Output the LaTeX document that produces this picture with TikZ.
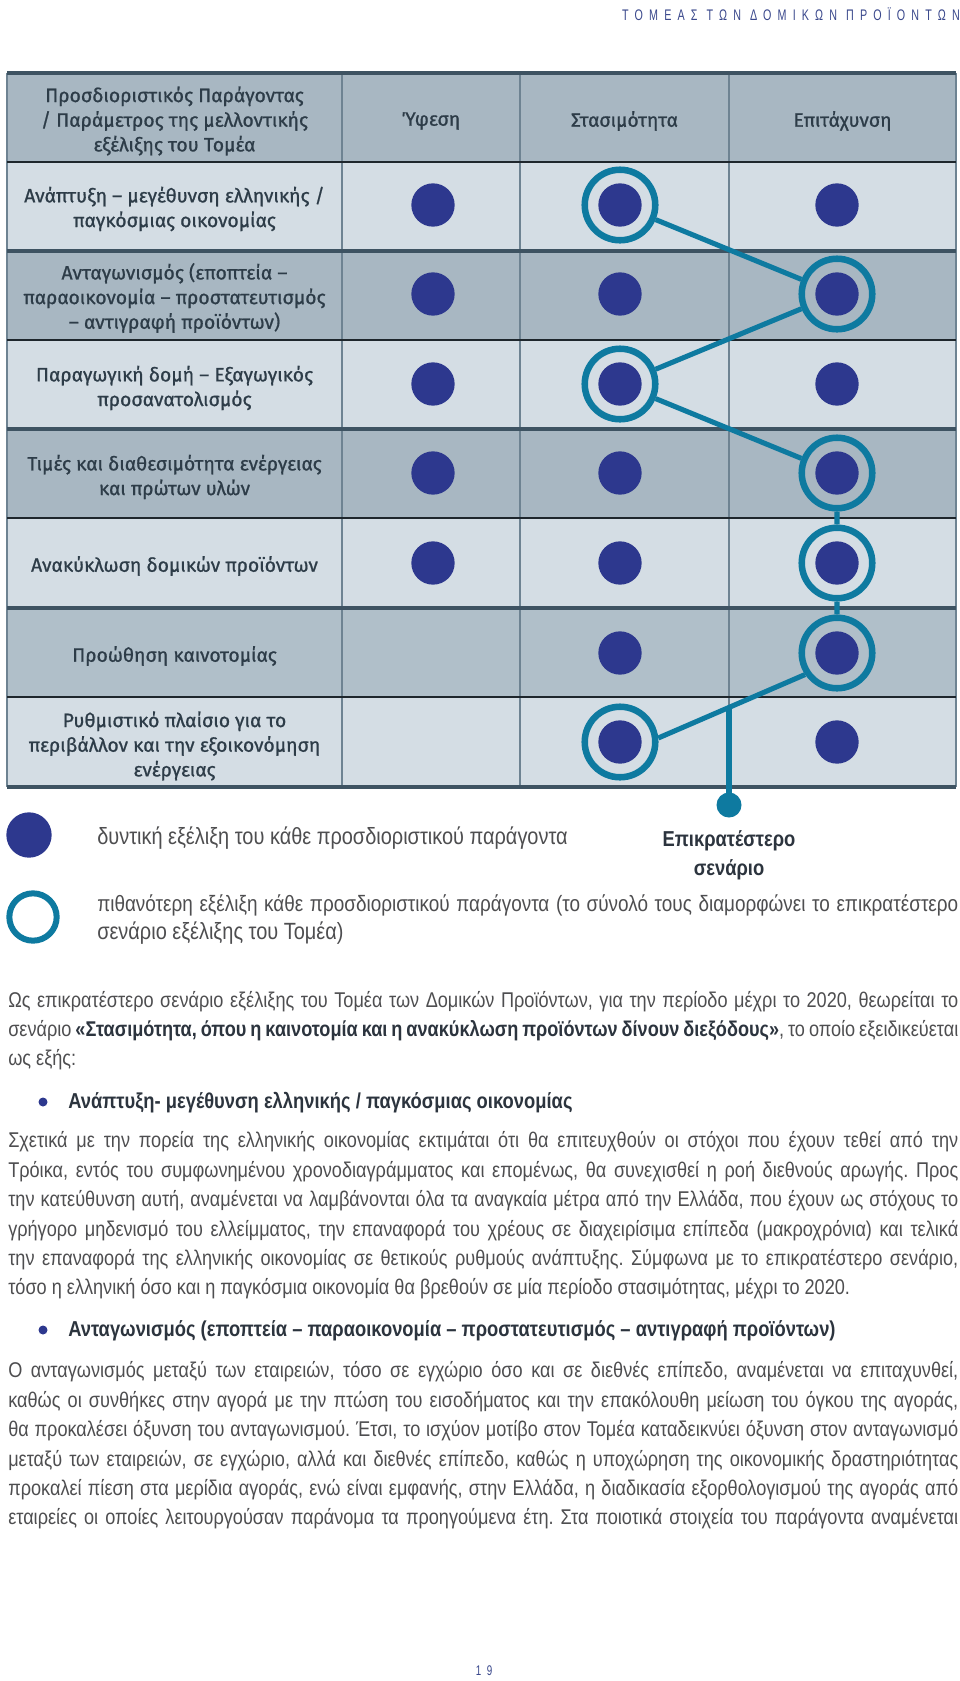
\documentclass[tikz,border=0pt]{standalone}
\usepackage{fontspec}
\usepackage{tikz}
\usetikzlibrary{calc}
\setmainfont{Liberation Sans}
\newfontfamily\tabfont[FakeBold=0.9]{Fira Sans}
\newfontfamily\bodyfont[FakeStretch=0.85]{Liberation Sans}
\newfontfamily\headfont[FakeStretch=0.7,LetterSpace=40]{Liberation Sans}
\definecolor{dotcol}{RGB}{45,56,142}
\definecolor{ringcol}{RGB}{14,122,160}
\definecolor{rowlight}{RGB}{212,221,228}
\definecolor{rowdark}{RGB}{168,183,194}
\definecolor{rowmid}{RGB}{176,191,201}
\definecolor{rulecol}{RGB}{30,38,44}
\definecolor{framecol}{RGB}{62,83,98}
\definecolor{gridcol}{RGB}{110,131,146}
\definecolor{tabtext}{RGB}{45,60,72}
\definecolor{bodytext}{RGB}{78,78,80}
\definecolor{boldtext}{RGB}{44,52,62}
\definecolor{headcol}{RGB}{58,72,140}
\frenchspacing
% one justified line of the running text
\newcommand{\jl}[2][712.5pt]{\hbox to #1{#2}}

\begin{document}
\begin{tikzpicture}[x=0.75pt,y=-0.75pt,
  pdot/.style={circle,fill=dotcol,inner sep=0pt,minimum size=32.5pt},
  pring/.style={circle,draw=ringcol,line width=4.9pt,inner sep=0pt,minimum size=52.9pt},
  plink/.style={draw=ringcol,line width=3.8pt},
  celltxt/.style={font=\tabfont\fontsize{14.5}{18.5}\selectfont,text=tabtext,align=center,inner sep=0pt},
  bodyln/.style={font=\bodyfont\fontsize{16}{22}\selectfont,text=bodytext,anchor=base west,inner sep=0pt},
  legln/.style={bodyln,font=\bodyfont\fontsize{17.6}{22}\selectfont},
  boldln/.style={bodyln,font=\bodyfont\bfseries\fontsize{16.2}{22}\selectfont,text=boldtext}]
  \fill[white] (0,0) rectangle (960,1681);
  \useasboundingbox (0,0) rectangle (960,1681);

  % running head
  \node[font=\headfont\fontsize{11.5}{13}\selectfont,text=headcol,anchor=base east,inner sep=0pt] (head) at (960,20) {ΤΟΜΕΑΣ ΤΩΝ ΔΟΜΙΚΩΝ ΠΡΟΪΟΝΤΩΝ};

  % Table: row bands
  \fill[rowdark] (7,73) rectangle (956,162);
  \fill[rowlight] (7,162) rectangle (956,251);
  \fill[rowdark] (7,251) rectangle (956,340);
  \fill[rowlight] (7,340) rectangle (956,429);
  \fill[rowdark] (7,429) rectangle (956,518);
  \fill[rowlight] (7,518) rectangle (956,608);
  \fill[rowmid] (7,608) rectangle (956,697);
  \fill[rowlight] (7,697) rectangle (956,787);
  \draw[gridcol,line width=1.5pt] (7,73) -- (7,787) (342,73) -- (342,787) (520,73) -- (520,787) (729,73) -- (729,787) (956,73) -- (956,787);
  \draw[rulecol,line width=2.2pt] (7,162) -- (956,162) (7,340) -- (956,340) (7,518) -- (956,518) (7,697) -- (956,697);
  \draw[framecol,line width=3.4pt] (7,73) -- (956,73) (7,251) -- (956,251) (7,429) -- (956,429) (7,608) -- (956,608) (7,787) -- (956,787);

  % Table: header and factor names
  \node[celltxt] (h0) at (174.5,121) {Προσδιοριστικός Παράγοντας\\/ Παράμετρος της μελλοντικής\\εξέλιξης του Τομέα};
  \node[celltxt] (h1) at (431,121) {Ύφεση};
  \node[celltxt] (h2) at (624.5,121) {Στασιμότητα};
  \node[celltxt] (h3) at (842.5,121) {Επιτάχυνση};
  \node[celltxt] (f1) at (174.5,209) {Ανάπτυξη – μεγέθυνση ελληνικής /\\παγκόσμιας οικονομίας};
  \node[celltxt] (f2) at (174.5,298) {Ανταγωνισμός (εποπτεία –\\παραοικονομία – προστατευτισμός\\– αντιγραφή προϊόντων)};
  \node[celltxt] (f3) at (174.5,388) {Παραγωγική δομή – Εξαγωγικός\\προσανατολισμός};
  \node[celltxt] (f4) at (174.5,477) {Τιμές και διαθεσιμότητα ενέργειας\\και πρώτων υλών};
  \node[celltxt] (f5) at (174.5,566) {Ανακύκλωση δομικών προϊόντων};
  \node[celltxt] (f6) at (174.5,656) {Προώθηση καινοτομίας};
  \node[celltxt] (f7) at (174.5,746) {Ρυθμιστικό πλαίσιο για το\\περιβάλλον και την εξοικονόμηση\\ενέργειας};

  % possible evolutions
  \node[pdot] (yf1) at (433,205) {};
  \node[pdot] (yf2) at (433,294) {};
  \node[pdot] (yf3) at (433,384) {};
  \node[pdot] (yf4) at (433,473) {};
  \node[pdot] (yf5) at (433,563) {};
  \node[pdot] (st1) at (620,205) {};
  \node[pdot] (st2) at (620,294) {};
  \node[pdot] (st3) at (620,384) {};
  \node[pdot] (st4) at (620,473) {};
  \node[pdot] (st5) at (620,563) {};
  \node[pdot] (st6) at (620,653) {};
  \node[pdot] (st7) at (620,742) {};
  \node[pdot] (ep1) at (837,205) {};
  \node[pdot] (ep2) at (837,294) {};
  \node[pdot] (ep3) at (837,384) {};
  \node[pdot] (ep4) at (837,473) {};
  \node[pdot] (ep5) at (837,563) {};
  \node[pdot] (ep6) at (837,653) {};
  \node[pdot] (ep7) at (837,742) {};

  % most likely evolution and the prevailing scenario
  \node[pring] (r1) at (st1) {};
  \node[pring] (r2) at (ep2) {};
  \node[pring] (r3) at (st3) {};
  \node[pring] (r4) at (ep4) {};
  \node[pring] (r5) at (ep5) {};
  \node[pring] (r6) at (ep6) {};
  \node[pring] (r7) at (st7) {};
  \draw[plink] (r1) -- (r2) -- (r3) -- (r4) -- (r5) -- (r6);
  \draw[plink] (r6.214) -- (r7.6);
  \coordinate (drop) at ($(r6.214)!0.516!(r7.6)$);
  \node[circle,fill=ringcol,inner sep=0pt,minimum size=18.75pt] (term) at (729,805) {};
  \draw[plink] (term.center) -- (term |- drop);
  \node[boldln,anchor=base] (sc1) at (729,846) {Επικρατέστερο};
  \node[boldln,anchor=base] (sc2) at (729,875) {σενάριο};

  % legend
  \node[pdot,minimum size=34pt] (legdot) at (29,835) {};
  \node[pring,minimum size=35.5pt,line width=4.5pt] (legring) at (33,917) {};
  \node[legln] (leg1) at (97,844) {δυντική εξέλιξη του κάθε προσδιοριστικού παράγοντα};
  \node[legln,font=\bodyfont\fontsize{16.7}{22}\selectfont] (leg2) at (97,911) {\jl[645.75pt]{πιθανότερη εξέλιξη κάθε προσδιοριστικού παράγοντα (το σύνολό τους διαμορφώνει το επικρατέστερο}};
  \node[legln] (leg3) at (97,939) {σενάριο εξέλιξης του Τομέα)};

  % text below the table
  \node[bodyln] (p1a) at (8,1007) {\jl{Ως επικρατέστερο σενάριο εξέλιξης του Τομέα των Δομικών Προϊόντων, για την περίοδο μέχρι το 2020, θεωρείται το}};
  \node[bodyln] (p1b) at (8,1036) {\jl{σενάριο {\bfseries\color{boldtext}«Στασιμότητα, όπου η καινοτομία και η ανακύκλωση προϊόντων δίνουν διεξόδους»}, το οποίο εξειδικεύεται}};
  \node[bodyln] (p1c) at (8,1065) {ως εξής:};
  \node[circle,fill=dotcol,inner sep=0pt,minimum size=6.75pt] (b1) at (43,1102) {};
  \node[boldln] (t1) at (68,1108) {Ανάπτυξη- μεγέθυνση ελληνικής / παγκόσμιας οικονομίας};
  \node[bodyln] (p2a) at (8,1147) {\jl{Σχετικά με την πορεία της ελληνικής οικονομίας εκτιμάται ότι θα επιτευχθούν οι στόχοι που έχουν τεθεί από την}};
  \node[bodyln] (p2b) at (8,1177) {\jl{Τρόικα, εντός του συμφωνημένου χρονοδιαγράμματος και επομένως, θα συνεχισθεί η ροή διεθνούς αρωγής. Προς}};
  \node[bodyln] (p2c) at (8,1206) {\jl{την κατεύθυνση αυτή, αναμένεται να λαμβάνονται όλα τα αναγκαία μέτρα από την Ελλάδα, που έχουν ως στόχους το}};
  \node[bodyln] (p2d) at (8,1236) {\jl{γρήγορο μηδενισμό του ελλείμματος, την επαναφορά του χρέους σε διαχειρίσιμα επίπεδα (μακροχρόνια) και τελικά}};
  \node[bodyln] (p2e) at (8,1265) {\jl{την επαναφορά της ελληνικής οικονομίας σε θετικούς ρυθμούς ανάπτυξης. Σύμφωνα με το επικρατέστερο σενάριο,}};
  \node[bodyln] (p2f) at (8,1294) {τόσο η ελληνική όσο και η παγκόσμια οικονομία θα βρεθούν σε μία περίοδο στασιμότητας, μέχρι το 2020.};
  \node[circle,fill=dotcol,inner sep=0pt,minimum size=6.75pt] (b2) at (43,1330) {};
  \node[boldln] (t2) at (68,1336) {Ανταγωνισμός (εποπτεία – παραοικονομία – προστατευτισμός – αντιγραφή προϊόντων)};
  \node[bodyln] (p3a) at (8,1377) {\jl{Ο ανταγωνισμός μεταξύ των εταιρειών, τόσο σε εγχώριο όσο και σε διεθνές επίπεδο, αναμένεται να επιταχυνθεί,}};
  \node[bodyln] (p3b) at (8,1407) {\jl{καθώς οι συνθήκες στην αγορά με την πτώση του εισοδήματος και την επακόλουθη μείωση του όγκου της αγοράς,}};
  \node[bodyln] (p3c) at (8,1436) {\jl{θα προκαλέσει όξυνση του ανταγωνισμού. Έτσι, το ισχύον μοτίβο στον Τομέα καταδεικνύει όξυνση στον ανταγωνισμό}};
  \node[bodyln] (p3d) at (8,1466) {\jl{μεταξύ των εταιρειών, σε εγχώριο, αλλά και διεθνές επίπεδο, καθώς η υποχώρηση της οικονομικής δραστηριότητας}};
  \node[bodyln] (p3e) at (8,1495) {\jl{προκαλεί πίεση στα μερίδια αγοράς, ενώ είναι εμφανής, στην Ελλάδα, η διαδικασία εξορθολογισμού της αγοράς από}};
  \node[bodyln] (p3f) at (8,1524) {\jl{εταιρείες οι οποίες λειτουργούσαν παράνομα τα προηγούμενα έτη. Στα ποιοτικά στοιχεία του παράγοντα αναμένεται}};

  % page number
  \node[font=\headfont\fontsize{10.5}{12}\selectfont,text=headcol,anchor=base,inner sep=0pt] (pg) at (484,1675) {19};
\end{tikzpicture}
\end{document}
